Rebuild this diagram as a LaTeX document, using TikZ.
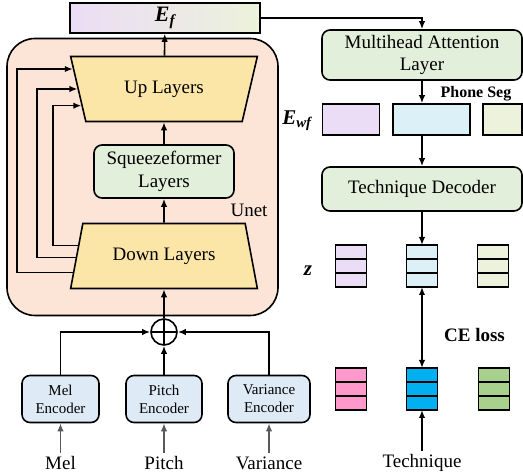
\documentclass[tikz,border=0pt]{standalone}
\usepackage{fontspec}
\setmainfont{Liberation Serif}
\usepackage{xcolor}
\usetikzlibrary{positioning,arrows.meta,shapes.geometric,calc}
\definecolor{tdink}{HTML}{000000}
\definecolor{tdgray}{HTML}{595959}
\definecolor{unetbg}{HTML}{FCE4D6}
\definecolor{trapbg}{HTML}{FBE6A8}
\definecolor{greenbox}{HTML}{E2EFDA}
\definecolor{encbg}{HTML}{DEEBF7}
\definecolor{segpurple}{HTML}{EBDDF5}
\definecolor{segblue}{HTML}{DCF0F8}
\definecolor{seggreen}{HTML}{ECF2DB}
\definecolor{techpink}{HTML}{FF99CC}
\definecolor{techblue}{HTML}{00B0F0}
\definecolor{techgreen}{HTML}{A9D18E}
\newcommand{\bodyfont}{\fontsize{19}{22.5}\selectfont}
\newcommand{\encfont}{\fontsize{15}{18}\selectfont}
\newcommand{\vecname}[2]{{\bfseries\itshape #1\textsubscript{#2}}}

\begin{document}
\begin{tikzpicture}[
  x=1pt,y=1pt,
  font=\bodyfont,
  blk/.style={draw=tdink,fill=greenbox,rounded corners=8pt,line width=1.6pt,
              align=center,inner sep=2pt},
  enc/.style={draw=tdink,fill=encbg,rounded corners=8pt,line width=1.6pt,
              align=center,inner sep=2pt,minimum width=76pt,minimum height=47pt,
              font=\encfont},
  trap/.style={draw=tdink,fill=trapbg,trapezium,trapezium stretches=true,
               line width=1.6pt,minimum width=187pt,minimum height=65pt,inner sep=0pt},
  seg/.style={draw=tdink,line width=1.6pt,minimum height=31pt,inner sep=0pt},
  cell/.style={draw=tdink,line width=1.6pt,minimum width=31pt,minimum height=14pt,
               inner sep=0pt,outer sep=0pt},
  arr/.style={-{Latex[length=8pt,width=6.5pt]},line width=1.6pt,tdink},
  garr/.style={arr,tdgray},
  darr/.style={{Latex[length=8pt,width=6.5pt]}-{Latex[length=8pt,width=6.5pt]},line width=1.6pt,tdink},
  lbl/.style={font=\bodyfont\bfseries}
]
\useasboundingbox (0,0) rectangle (523,476);

% unet body
\node[draw=tdink,fill=unetbg,line width=1.6pt,rounded corners=28pt,
      minimum width=271pt,minimum height=277pt] (unet) at (142.5,299) {};
\node (unetlbl) at (249,266) {Unet};
\node[draw=tdink,line width=1.6pt,left color=segpurple,middle color=segblue,
      right color=seggreen,minimum width=190pt,minimum height=30pt] (ef) at (165,458)
  {\fontsize{22}{24}\selectfont\vecname{E}{f}};

\node[trap,trapezium left angle=115,trapezium right angle=115] (up) at (164,387) {Up Layers};
\node[blk,minimum width=140pt,minimum height=53pt] (sq) at (164,304.5) {Squeezeformer\\Layers};
\node[trap,trapezium left angle=65,trapezium right angle=65] (down) at (164,220) {Down Layers};

% skip connections
\coordinate (skipo) at (17,0);
\coordinate (skipm) at (37,0);
\coordinate (skipi) at (53,0);
\coordinate (dno) at ($(down.bottom left corner)!.25!(down.top left corner)$);
\coordinate (dnm) at ($(down.bottom left corner)!.48!(down.top left corner)$);
\coordinate (dni) at ($(down.bottom left corner)!.66!(down.top left corner)$);
\coordinate (upo) at ($(up.top left corner)!.2!(up.bottom left corner)$);
\coordinate (upm) at ($(up.top left corner)!.5!(up.bottom left corner)$);
\coordinate (upi) at ($(up.top left corner)!.75!(up.bottom left corner)$);

% encoders
\node[draw=tdink,circle,line width=1.6pt,minimum size=26pt,inner sep=0pt,
      path picture={\draw[line width=1.6pt]
        (path picture bounding box.north) -- (path picture bounding box.south)
        (path picture bounding box.west) -- (path picture bounding box.east);}] (sum) at (164,144) {};
\node[enc,minimum width=77pt] (mel) at (60.5,77) {Mel\\Encoder};
\node[enc] (pitch) at (164,77) {Pitch\\Encoder};
\node[enc,minimum width=82pt] (var) at (269,77) {Variance\\Encoder};
\node (melin) at (60.5,13) {Mel};
\node (pitchin) at (164,13) {Pitch};
\node (varin) at (269,13) {Variance};

% right column
\node[blk,minimum width=200pt,minimum height=50pt] (mha) at (422,421) {Multihead Attention\\Layer};
\node[lbl,font=\fontsize{16}{18}\selectfont\bfseries] (phone) at (476,382) {Phone Seg};
\node (ewf) at (297,355) {\fontsize{21}{24}\selectfont\vecname{E}{wf}};
\node[seg,fill=segpurple,minimum width=57pt] (wfp) at (351,356.5) {};
\node[seg,fill=segblue,minimum width=77pt] (wfb) at (431.5,356.5) {};
\node[seg,fill=seggreen,minimum width=39pt] (wfg) at (502.5,356.5) {};
\node[blk,minimum width=200pt,minimum height=44pt] (td) at (422,287) {Technique Decoder};

\node (zlbl) at (308,205) {\fontsize{21}{24}\selectfont\bfseries\itshape z};
\foreach \nm/\xx/\cc in {zp/351/segpurple, zb/422/segblue, zg/493/seggreen}{
  \node[cell,fill=\cc] (\nm1) at (\xx,224) {};
  \node[cell,fill=\cc,below=0pt of \nm1] (\nm2) {};
  \node[cell,fill=\cc,below=0pt of \nm2] (\nm3) {};
}
\foreach \nm/\xx/\cc in {tp/351/techpink, tb/422/techblue, tg/494/techgreen}{
  \node[cell,fill=\cc] (\nm1) at (\xx,101) {};
  \node[cell,fill=\cc,below=0pt of \nm1] (\nm2) {};
  \node[cell,fill=\cc,below=0pt of \nm2] (\nm3) {};
}
\node[lbl] (celoss) at (474.5,141) {CE loss};
\node (tech) at (422,13) {Technique};

% connectors
\draw[arr] (up) -- (ef);
\draw[arr] (sq) -- (up);
\draw[arr] (down) -- (sq);
\draw[arr] (sum) -- (down);
\draw[arr] (dno) -- (dno -| skipo) |- (upo);
\draw[arr] (dnm) -- (dnm -| skipm) |- (upm);
\draw[arr] (dni) -- (dni -| skipi) |- (upi);
\draw[arr] (mel.north) |- (sum.west);
\draw[arr] (var.north) |- (sum.east);
\draw[arr] (pitch) -- (sum);
\draw[garr] (melin) -- (mel);
\draw[garr] (pitchin) -- (pitch);
\draw[garr] (varin) -- (var);
\draw[arr] (ef.east) -| (mha.north);
\draw[arr] (mha.south) -- (mha.south |- wfb.north);
\draw[arr] (td.north |- wfb.south) -- (td.north);
\draw[arr] (td.south) -- (zb1.north);
\draw[darr] (zb3.south) -- (tb1.north);
\draw[arr] (tech) -- (tb3.south);
\end{tikzpicture}
\end{document}
